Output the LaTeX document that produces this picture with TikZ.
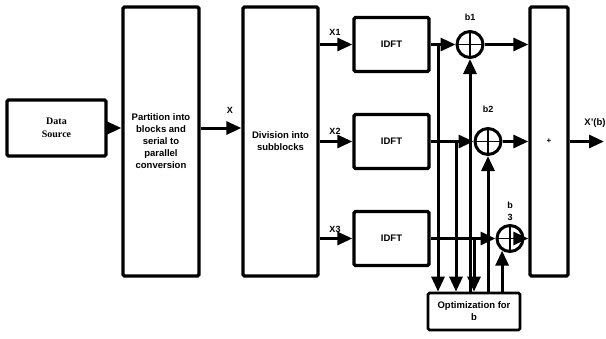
\documentclass[tikz,border=0pt]{standalone}
\usepackage{fontspec}
\setmainfont{Liberation Sans}
\newfontfamily\serifb{Liberation Serif}
\usetikzlibrary{arrows.meta}
\begin{document}
\begin{tikzpicture}[x=1pt,y=-1pt,
  blk/.style={draw, line width=3.4pt, rounded corners=1.5pt, inner sep=0pt, align=center, font=\bfseries\fontsize{9.5}{12}\selectfont},
  lbl/.style={font=\bfseries\fontsize{9}{11}\selectfont, inner sep=0pt},
  arr/.style={line width=3pt, -{Triangle[length=15pt,width=13pt]}},
  sumc/.style={circle, draw, line width=3pt, minimum size=26pt, inner sep=0pt,
    path picture={\draw[line width=1.8pt] (path picture bounding box.north) -- (path picture bounding box.south) (path picture bounding box.west) -- (path picture bounding box.east);}}
]
\useasboundingbox (0,0) rectangle (606,338);

% blocks
\node[blk, minimum width=99pt, minimum height=56pt, font=\serifb\bfseries\fontsize{10}{12.5}\selectfont] (ds) at (56.5,128) {Data\\Source};
\node[blk, minimum width=76pt, minimum height=269pt] (part) at (161,141.5) {Partition into\\blocks and\\serial to\\parallel\\conversion};
\node[blk, minimum width=75pt, minimum height=269pt] (div) at (280.5,141.5) {Division into\\subblocks};
\node[blk, minimum width=75pt, minimum height=54pt] (i1) at (391.5,44.5) {IDFT};
\node[blk, minimum width=75pt, minimum height=54pt] (i2) at (391.5,141.5) {IDFT};
\node[blk, minimum width=75pt, minimum height=54pt] (i3) at (391.5,238.5) {IDFT};
\node[blk, minimum width=38pt, minimum height=269pt, font=\bfseries\fontsize{8}{10}\selectfont] (sum) at (549,141.5) {\raisebox{-4pt}{+}};
\node[blk, line width=2.8pt, minimum width=92pt, minimum height=37pt] (opt) at (474,311.5) {Optimization for\\b};

% combiners
\node[sumc] (b1) at (470,44.5) {};
\node[sumc] (b2) at (488,141.5) {};
\node[sumc] (b3) at (510,238.5) {};

% labels
\node[lbl] (lx) at (230,110) {X};
\node[lbl] (lx1) at (335,32) {X1};
\node[lbl] (lx2) at (335,131) {X2};
\node[lbl] (lx3) at (335,229) {X3};
\node[lbl] (lb1) at (470,17) {b1};
\node[lbl] (lb2) at (488,109) {b2};
\node[lbl] (lb3) at (510,205) {b};
\node[lbl] (lb3b) at (510,217) {3};
\node[lbl, font=\bfseries\fontsize{9.5}{11}\selectfont] (lxb) at (595,123) {X'(b)};

% coordinates
\coordinate (t1) at (438,44.5);
\coordinate (t2) at (456,141.5);
\coordinate (t3) at (474,238.5);
\coordinate (out) at (604,141.5);

% main chain
\draw[arr] (ds.east) -- (ds.east -| part.west);
\draw[arr] (part.east |- ds.east) -- (div.west |- ds.east);
\draw[arr] (div.east |- i1) -- (i1.west);
\draw[arr] (div.east |- i2) -- (i2.west);
\draw[arr] (div.east |- i3) -- (i3.west);

\draw[arr] (i1.east) -- (b1.west);
\draw[arr] (i2.east) -- (b2.west);
\draw[arr] (i3.east) -- (b3.west);

\draw[arr] (b1.east) -- (b1.east -| sum.west);
\draw[arr] (b2.east) -- (b2.east -| sum.west);
\draw[arr] (b3.east) -- (b3.east -| sum.west);
\draw[arr] (sum.east |- out) -- (out);

% branches down to optimisation
\draw[arr] (t1) -- (t1 |- opt.north);
\draw[arr] (t2) -- (t2 |- opt.north);
\draw[arr] (t3) -- (t3 |- opt.north);

% control lines up
\draw[arr] (b1.south |- opt.north) -- (b1.south);
\draw[arr] (b2.south |- opt.north) -- (b2.south);
\draw[arr] (b3.237 |- opt.north) -- (b3.237);
\end{tikzpicture}
\end{document}
